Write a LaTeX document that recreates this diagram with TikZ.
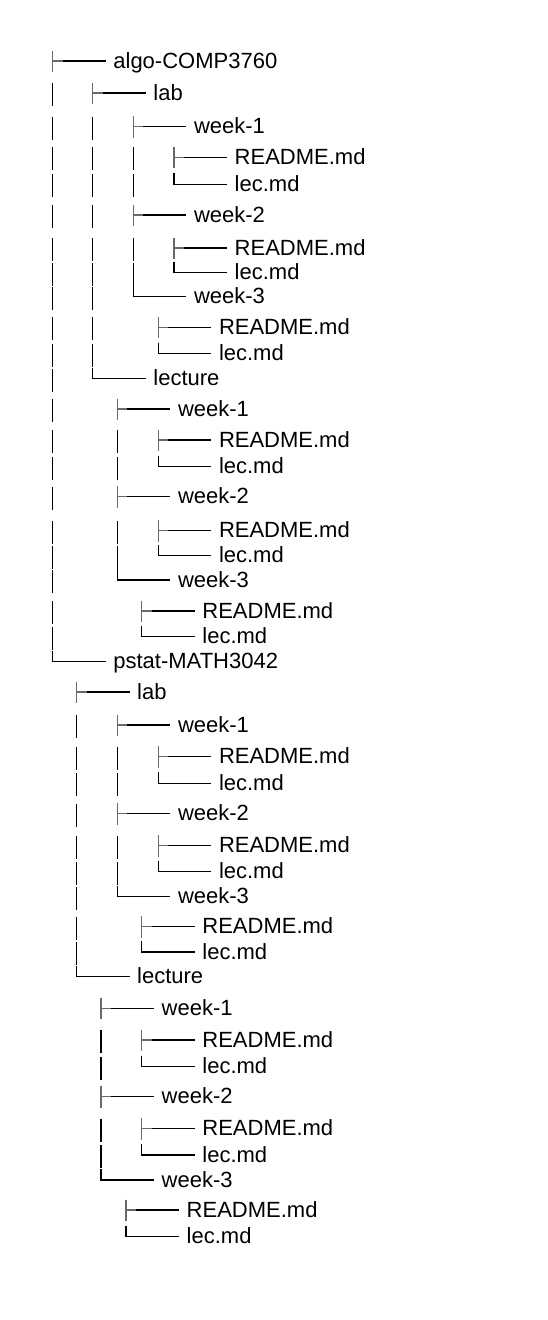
\documentclass[tikz,border=0pt]{standalone}
\usepackage{fontspec}
\setmainfont{Liberation Sans}
\definecolor{teegray}{RGB}{105,105,105}
\tikzset{
  vline/.style={line width=1.5pt, black},
  teev/.style={line width=1.5pt, teegray},
  hline/.style={line width=1.4pt, black, line join=miter},
  lbl/.style={anchor=base west, inner sep=0pt, font=\fontsize{22}{26}\selectfont}
}
% vertical continuation bar: x, mid
\newcommand\mybar[2]{\draw[vline] (#1,#2-10) -- (#1,#2+13);}
% tee row: name, x, mid, text
\newcommand\teerow[4]{%
  \coordinate (#1-j) at (#2,#3);
  \node[lbl] (#1) at (#2+60.5,#3+7) {#4};
  \draw[teev] (#2,#3-10.5) -- (#2,#3+11);
  \draw[teev] (#1-j) -- ++(10,0);
  \draw[hline] (#2+10,#3) -- (#2+53,#3);
}
% elbow row: name, x, mid, text
\newcommand\elbrow[4]{%
  \coordinate (#1-j) at (#2,#3);
  \node[lbl] (#1) at (#2+60.5,#3+7) {#4};
  \draw[hline] (#2,#3-11) -- (#1-j) -- (#2+53,#3);
}
\begin{document}
\begin{tikzpicture}[x=1pt,y=-1pt]
\useasboundingbox (0,0) rectangle (548,1320);
\def\A{52.7}\def\B{92.7}\def\C{133.3}\def\D{174}\def\E{158.3}
\def\F{117.3}\def\G{141.7}\def\H{76.5}\def\I{101}\def\J{126}
% algo
\teerow{r1}{\A}{61}{algo-COMP3760}
\mybar{\A}{93}\teerow{r2}{\B}{93}{lab}
\mybar{\A}{126.5}\mybar{\B}{126.5}\teerow{r3}{\C}{126.5}{week-1}
\mybar{\A}{157.3}\mybar{\B}{157.3}\mybar{\C}{157.3}\teerow{r4}{\D}{157.3}{README.md}
\mybar{\A}{184.3}\mybar{\B}{184.3}\mybar{\C}{184.3}\elbrow{r5}{\D}{184.3}{lec.md}
\mybar{\A}{215}\mybar{\B}{215}\teerow{r6}{\C}{215}{week-2}
\mybar{\A}{248}\mybar{\B}{248}\mybar{\C}{248}\teerow{r7}{\D}{248}{README.md}
\mybar{\A}{272.7}\mybar{\B}{272.7}\mybar{\C}{272.7}\elbrow{r8}{\D}{272.7}{lec.md}
\mybar{\A}{296.7}\mybar{\B}{296.7}\elbrow{r9}{\C}{296.7}{week-3}
\mybar{\A}{327.3}\mybar{\B}{327.3}\teerow{r10}{\E}{327.3}{README.md}
\mybar{\A}{353.5}\mybar{\B}{353.5}\elbrow{r11}{\E}{353.5}{lec.md}
\mybar{\A}{378.5}\elbrow{r12}{\B}{378.5}{lecture}
\mybar{\A}{409}\teerow{r13}{\F}{409}{week-1}
\mybar{\A}{440}\mybar{\F}{440}\teerow{r14}{\E}{440}{README.md}
\mybar{\A}{466.5}\mybar{\F}{466.5}\elbrow{r15}{\E}{466.5}{lec.md}
\mybar{\A}{496.7}\teerow{r16}{\F}{496.7}{week-2}
\mybar{\A}{530.5}\mybar{\F}{530.5}\teerow{r17}{\E}{530.5}{README.md}
\mybar{\A}{555.5}\mybar{\F}{555.5}\elbrow{r18}{\E}{555.5}{lec.md}
\mybar{\A}{580}\elbrow{r19}{\F}{580}{week-3}
\mybar{\A}{611}\teerow{r20}{\G}{611}{README.md}
\mybar{\A}{636.7}\elbrow{r21}{\G}{636.7}{lec.md}
% pstat
\elbrow{r22}{\A}{661.5}{pstat-MATH3042}
\teerow{r23}{\H}{692}{lab}
\mybar{\H}{725}\teerow{r24}{\F}{725}{week-1}
\mybar{\H}{756.7}\mybar{\F}{756.7}\teerow{r25}{\E}{756.7}{README.md}
\mybar{\H}{783.3}\mybar{\F}{783.3}\elbrow{r26}{\E}{783.3}{lec.md}
\mybar{\H}{813.5}\teerow{r27}{\F}{813.5}{week-2}
\mybar{\H}{845.5}\mybar{\F}{845.5}\teerow{r28}{\E}{845.5}{README.md}
\mybar{\H}{871.5}\mybar{\F}{871.5}\elbrow{r29}{\E}{871.5}{lec.md}
\mybar{\H}{896.7}\elbrow{r30}{\F}{896.7}{week-3}
\mybar{\H}{926.7}\teerow{r31}{\G}{926.7}{README.md}
\mybar{\H}{952}\elbrow{r32}{\G}{952}{lec.md}
\elbrow{r33}{\H}{976.7}{lecture}
\teerow{r34}{\I}{1008.3}{week-1}
\mybar{\I}{1040}\teerow{r35}{\G}{1040}{README.md}
\mybar{\I}{1066.7}\elbrow{r36}{\G}{1066.7}{lec.md}
\teerow{r37}{\I}{1096.7}{week-2}
\mybar{\I}{1128.5}\teerow{r38}{\G}{1128.5}{README.md}
\mybar{\I}{1155}\elbrow{r39}{\G}{1155}{lec.md}
\elbrow{r40}{\I}{1180}{week-3}
\teerow{r41}{\J}{1210}{README.md}
\elbrow{r42}{\J}{1236.7}{lec.md}
\end{tikzpicture}
\end{document}
